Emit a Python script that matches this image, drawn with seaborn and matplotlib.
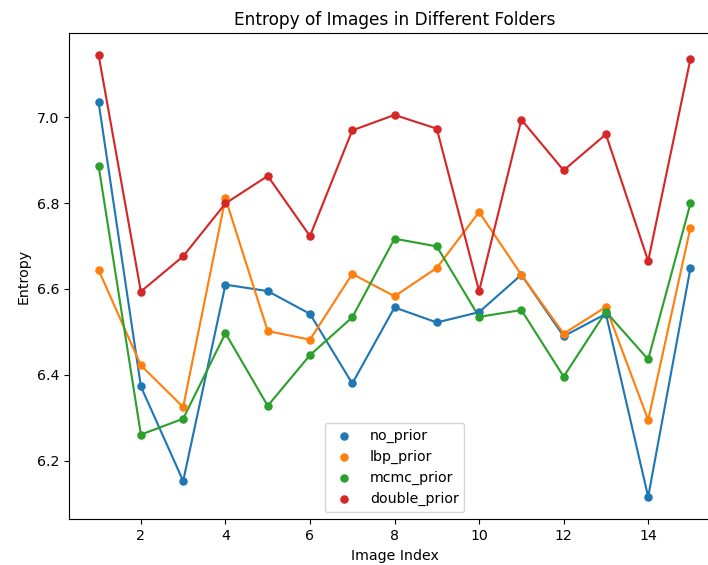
import matplotlib
matplotlib.use("Agg")
import matplotlib.pyplot as plt
import seaborn as sns
import pandas as pd

# Entropy values
image_index = list(range(1, 16))
no_prior = [7.034, 6.373, 6.153, 6.610, 6.595, 6.542, 6.380, 6.557, 6.522, 6.546,
            6.633, 6.490, 6.542, 6.116, 6.649]
lbp_prior = [6.644, 6.422, 6.325, 6.811, 6.502, 6.482, 6.635, 6.583, 6.649, 6.779,
             6.633, 6.496, 6.558, 6.295, 6.743]
mcmc_prior = [6.886, 6.261, 6.298, 6.497, 6.328, 6.446, 6.534, 6.717, 6.699, 6.535,
              6.551, 6.396, 6.547, 6.436, 6.799]
double_prior = [7.144, 6.594, 6.676, 6.799, 6.863, 6.723, 6.969, 7.005, 6.973, 6.595,
                6.994, 6.876, 6.960, 6.665, 7.135]

series = {
    "no_prior": no_prior,
    "lbp_prior": lbp_prior,
    "mcmc_prior": mcmc_prior,
    "double_prior": double_prior,
}
colors = ["#1f77b4", "#ff7f0e", "#2ca02c", "#d62728"]

df = pd.DataFrame(series, index=image_index).reset_index(names="Image Index")
long_df = df.melt(id_vars="Image Index", var_name="folder", value_name="Entropy")

dpi = 102
fig = plt.figure(figsize=(708 / dpi, 565 / dpi), dpi=dpi)
# axes runs a little past the right edge, like the cropped original
ax = fig.add_axes([0.0975, 0.0814, 0.9195, 0.860])

for name, color in zip(series, colors):
    sub = long_df[long_df["folder"] == name]
    sns.lineplot(data=sub, x="Image Index", y="Entropy", color=color, lw=1.5,
                 ax=ax, legend=False)
    sns.scatterplot(data=sub, x="Image Index", y="Entropy", color=color, s=36,
                    linewidth=0, label=name, ax=ax, zorder=3)

ax.set_xticks([2, 4, 6, 8, 10, 12, 14])
ax.set_yticks([6.2, 6.4, 6.6, 6.8, 7.0])
ax.set_title("Entropy of Images in Different Folders")
ax.set_xlabel("Image Index")
ax.set_ylabel("Entropy")
ax.legend(loc="lower center")

fig.savefig("out.png", dpi=dpi)
